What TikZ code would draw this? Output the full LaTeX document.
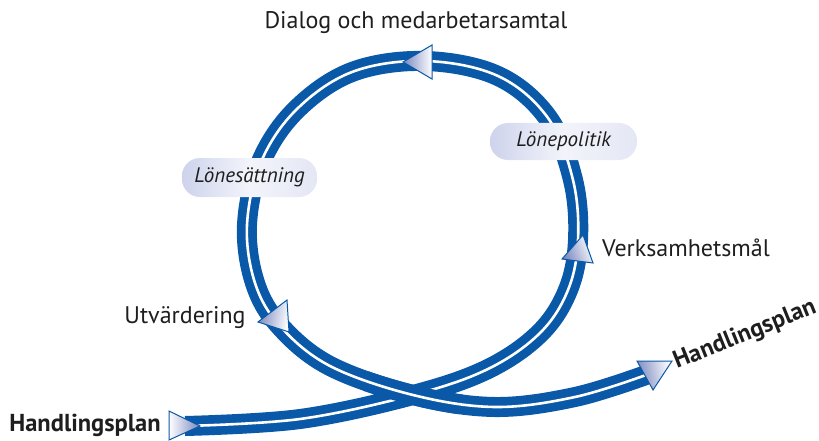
\documentclass[tikz,border=0pt]{standalone}
\usepackage{fontspec}
\setmainfont{PT Sans}
\definecolor{bandblue}{RGB}{10,88,168}
\definecolor{tipc}{RGB}{122,136,192}
\definecolor{pillc}{RGB}{206,211,236}
\definecolor{txt}{RGB}{30,30,30}
\begin{document}
\begin{tikzpicture}[x=1pt,y=-1pt,
  band/.style={draw=bandblue, line width=20pt},
  bandline/.style={draw=white, line width=2.6pt},
  arrowsty/.style={draw=bandblue, line width=1pt, line join=miter, top color=tipc, bottom color=white},
  pill/.style={rounded corners=18pt, inner sep=0pt, left color=pillc, right color=pillc!55!white, middle color=pillc!25!white, text=txt, font=\fontsize{21}{24}\selectfont\itshape},
  lbl/.style={inner sep=0pt, text=txt, font=\fontsize{24}{28}\selectfont},
  blbl/.style={inner sep=0pt, text=txt, font=\fontsize{24.5}{28}\selectfont\bfseries}]
\useasboundingbox (0,0) rectangle (819,441);
\draw[band] plot[smooth, tension=0.6] coordinates {(185,426) (300,419) (413,395) (488,369) (540,333) (568,290) (578,240) (573,180) (548,118) (498,76) (425,61) (352,72) (296,110) (261,162) (247,225) (255,283) (280,326) (330,366) (413,395) (495,407) (575,397) (646,375)};
\draw[bandline] plot[smooth, tension=0.6] coordinates {(185,426) (300,419) (413,395) (488,369) (540,333) (568,290) (578,240) (573,180) (548,118) (498,76) (425,61) (352,72) (296,110) (261,162) (247,225) (255,283) (280,326) (330,366) (413,395) (495,407) (575,397) (646,375)};
\coordinate (cross) at (413,395);
\begin{scope}
  \clip (cross) circle (50);
  \draw[band] plot[smooth, tension=0.6] coordinates {(280,326) (330,366) (413,395) (495,407) (575,397) (646,375)};
  \draw[bandline] plot[smooth, tension=0.6] coordinates {(280,326) (330,366) (413,395) (495,407) (575,397) (646,375)};
\end{scope}
% pills
\node[pill, minimum width=147pt, minimum height=37pt] (lp) at (563.5,141.5) {Lönepolitik};
\node[pill, minimum width=135pt, minimum height=39pt] (ls) at (249.5,177.5) {Lönesättning};
% arrows
\shade[arrowsty, shading angle=90] (403,62) -- (432,45) -- (432,79) -- cycle;
\shade[arrowsty, shading angle=-90] (169,411) -- (200,426) -- (169,440) -- cycle;
\shade[arrowsty, shading angle=100] (637,361) -- (672,361) -- (653,390) -- cycle;
\shade[arrowsty, shading angle=80] (258,322) -- (287,300) -- (289,332) -- cycle;
\shade[arrowsty, shading angle=110] (562,259) -- (583,235) -- (593,263) -- cycle;
% labels
\node[lbl] (dlg) at (416,23) {Dialog och medarbetarsamtal};
\node[lbl] (vm) at (686,248) {Verksamhetsmål};
\node[lbl] (utv) at (185,318) {Utvärdering};
\node[blbl] (hp1) at (85,425) {Handlingsplan};
\node[blbl, rotate=22] (hp2) at (745,335) {Handlingsplan};
\end{tikzpicture}
\end{document}
